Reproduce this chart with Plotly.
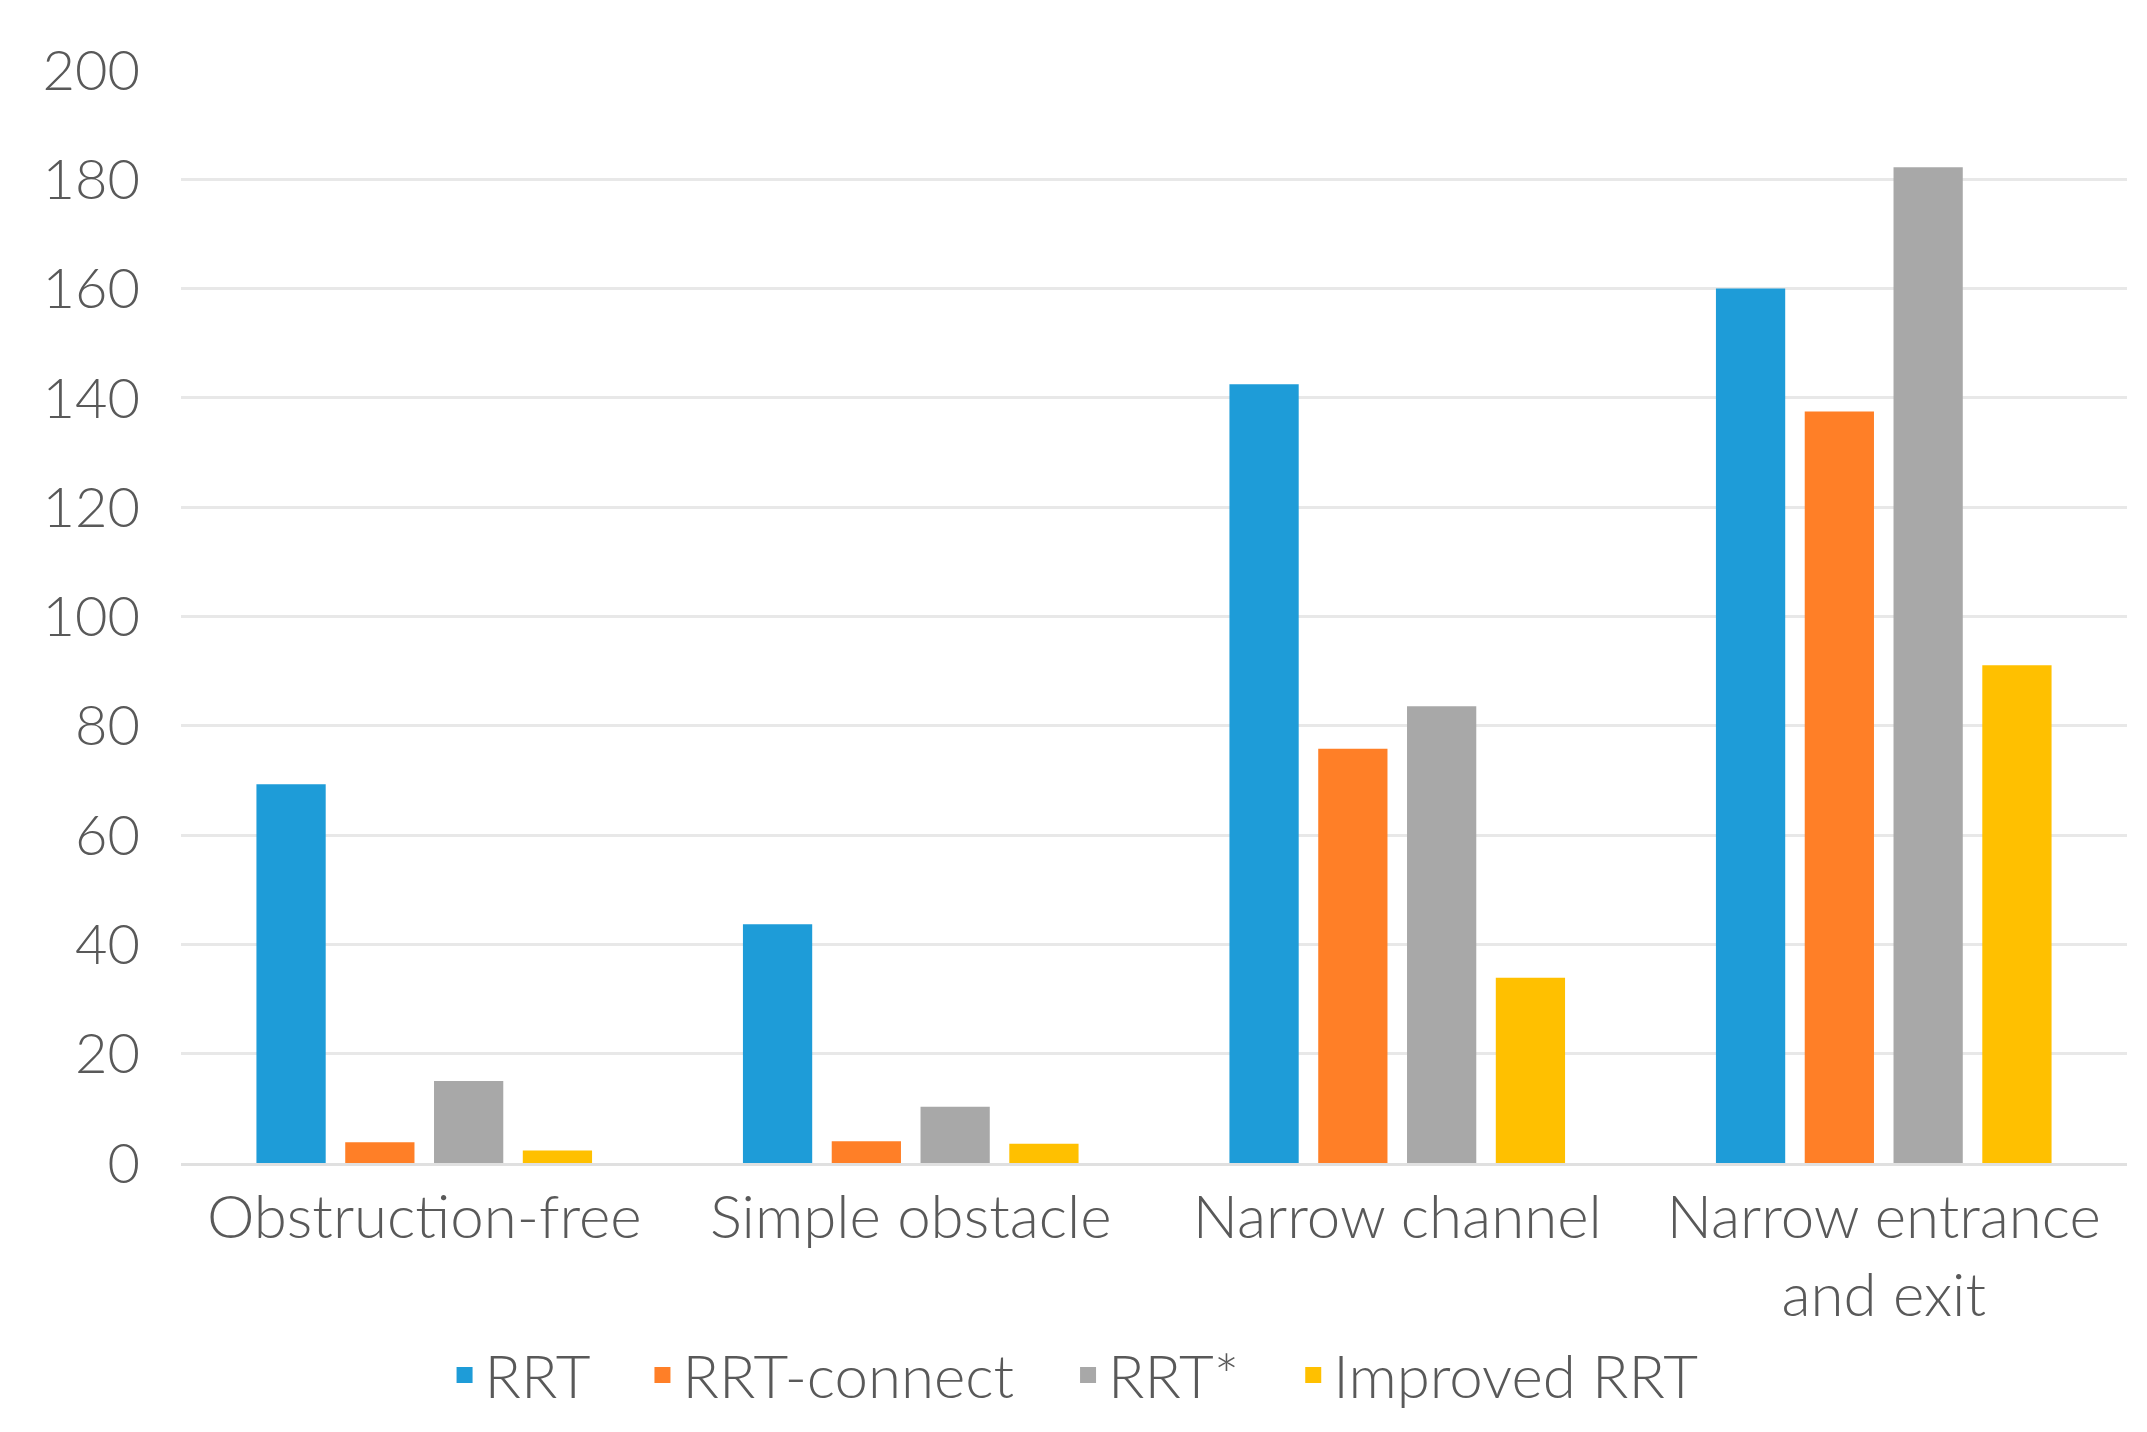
import plotly.graph_objects as go

categories = ["Obstruction-free", "Simple obstacle", "Narrow channel", "Narrow entrance<br>and exit"]
rrt = [69.3, 43.7, 142.5, 160.0]
rrt_connect = [3.8, 4.0, 75.8, 137.5]
rrt_star = [15.0, 10.3, 83.6, 182.2]
improved_rrt = [2.3, 3.5, 33.9, 91.1]

series_names = ["RRT", "RRT-connect", "RRT*", "Improved RRT"]
series_values = [rrt, rrt_connect, rrt_star, improved_rrt]
colors = ["#1E9CD8", "#FF7F27", "#A8A8A8", "#FFC000"]

FONT = "Lato"
TXT = "#595959"
PAD = "\u00a0\u00a0\u00a0"

fig = go.Figure()
for name, vals, col in zip(series_names, series_values, colors):
    fig.add_trace(go.Bar(x=categories, y=vals, name=name, legendgroup=name, showlegend=False,
                         marker=dict(color=col, line=dict(width=0))))
# legend entries with larger square keys
for name, col in zip(series_names, colors):
    fig.add_trace(go.Scatter(x=[None], y=[None], mode="markers", name=name + PAD, legendgroup=name,
                             marker=dict(symbol="square", size=30, color=col, line=dict(width=0)),
                             showlegend=True))

fig.update_layout(
    width=2147, height=1432,
    paper_bgcolor="white", plot_bgcolor="white",
    margin=dict(l=173, r=28, t=62, b=277),
    barmode="group", bargap=0.27, bargroupgap=0.22,
    font=dict(family=FONT, size=56, color=TXT, weight=300),
    legend=dict(orientation="h", x=0.471, xanchor="center", y=-0.194, yanchor="middle",
                font=dict(family=FONT, size=60, color=TXT, weight=300),
                itemwidth=30, tracegroupgap=0, itemsizing="trace"),
    showlegend=True,
)
fig.update_yaxes(range=[0, 200], dtick=20, showgrid=True, gridcolor="#E8E8E8", gridwidth=3,
                 zeroline=False, showline=False, ticks="", ticklabelstandoff=40,
                 tickfont=dict(family=FONT, size=56, color=TXT, weight=300))
fig.update_xaxes(showline=True, linecolor="#E0E0E0", linewidth=3, ticks="", ticklabelstandoff=0,
                 tickfont=dict(family=FONT, size=60, color=TXT, weight=300))

fig.write_html("out.html")
